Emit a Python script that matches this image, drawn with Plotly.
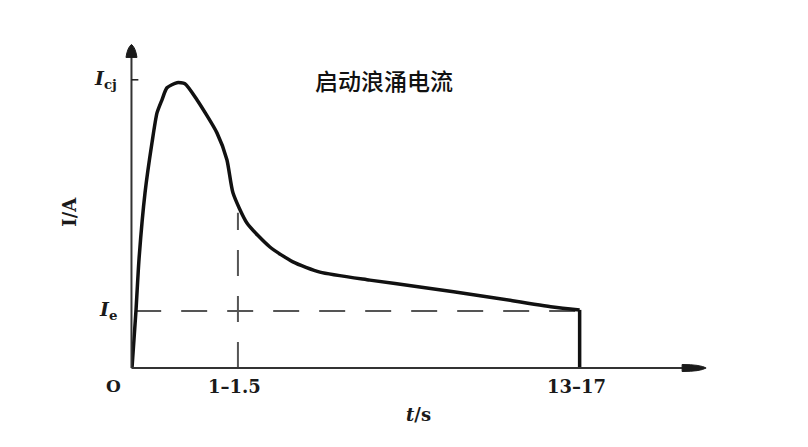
import plotly.graph_objects as go

# ---- data (abstract units: x in "tick units", y in multiples of Ie) ----
curve_t = [0.0, 0.038, 0.066, 0.123, 0.189, 0.236, 0.283, 0.330, 0.425, 0.50, 0.613,
           0.802, 0.896, 0.953, 1.085, 1.302, 1.519, 1.774, 2.245, 2.717, 3.349, 3.972, 4.226]
curve_i = [0.0, 1.02, 1.90, 3.07, 3.95, 4.47, 4.70, 4.91, 5.00, 4.98, 4.70,
           4.12, 3.65, 3.07, 2.54, 2.12, 1.86, 1.68, 1.54, 1.42, 1.25, 1.07, 1.018]
drop_t = [4.226, 4.226]
drop_i = [1.018, 0.0]

I_e = 1.0
I_cj = 5.05
t_start = 1.0      # "1–1.5"
t_end = 4.226      # "13–17"

x_tick_vals = [t_start, t_end]
x_tick_text = ["1–1.5", "13–17"]
y_tick_vals = [I_cj, I_e]
y_tick_text = ["<b><i>I</i><sub>cj</sub></b>", "<b><i>I</i><sub>e</sub></b>"]

title_text = "启动浪涌电流"
x_title = "<b><i>t</i>/s</b>"
y_title = "<b>I/A</b>"

W, H = 808, 447
off = 8  # page body margin
ml, mb = 132 - off, 79 + off
ux, uy = 106.0, 57.0
x_max, y_max = 5.4, 5.8
pw, ph = x_max * ux, y_max * uy
mt = H - mb - ph
mr = W - ml - pw

serif = "DejaVu Serif, Liberation Serif, serif"
ink = "#1a1a1a"


def px(x):
    return x / x_max


def py(y):
    return y / y_max


fig = go.Figure()

# dashed reference lines
dash = "26px,20px"
fig.add_trace(go.Scatter(x=[0.03, t_end], y=[I_e, I_e], mode="lines",
                         line=dict(color="#555555", width=2, dash=dash),
                         hoverinfo="skip", showlegend=False))
fig.add_trace(go.Scatter(x=[t_start, t_start], y=[0, 2.72], mode="lines",
                         line=dict(color="#555555", width=2, dash=dash),
                         hoverinfo="skip", showlegend=False))

# main curve
fig.add_trace(go.Scatter(x=curve_t, y=curve_i, mode="lines",
                         line=dict(color="#111111", width=3.5, shape="spline", smoothing=0.6),
                         hoverinfo="skip", showlegend=False))
fig.add_trace(go.Scatter(x=drop_t, y=drop_i, mode="lines",
                         line=dict(color="#111111", width=3.5),
                         hoverinfo="skip", showlegend=False))

# axes with arrowheads
x_tip, y_tip = 5.42, 5.67
x_axis_y = 0.0
y_axis_x = -0.005
shapes = [
    dict(type="line", xref="paper", yref="paper", x0=px(y_axis_x), x1=px(x_tip - 0.15),
         y0=py(x_axis_y), y1=py(x_axis_y), line=dict(color="#333333", width=2)),
    dict(type="line", xref="paper", yref="paper", x0=px(y_axis_x), x1=px(y_axis_x),
         y0=py(0), y1=py(y_tip - 0.15), line=dict(color="#333333", width=2)),
    dict(type="path", xref="paper", yref="paper", xsizemode="pixel", ysizemode="pixel",
         xanchor=px(x_tip), yanchor=py(x_axis_y),
         path="M 0 0 Q -6 3.5 -24 3.5 L -24 -3.5 Q -6 -3.5 0 0 Z",
         fillcolor=ink, line=dict(color=ink, width=1)),
    dict(type="path", xref="paper", yref="paper", xsizemode="pixel", ysizemode="pixel",
         xanchor=px(y_axis_x), yanchor=py(y_tip),
         path="M 0 0 Q 4 -3 5.5 -13 L -5.5 -13 Q -4 -3 0 0 Z",
         fillcolor=ink, line=dict(color=ink, width=1)),
    dict(type="line", xref="paper", yref="paper", x0=px(y_axis_x), x1=px(0.06),
         y0=py(I_cj), y1=py(I_cj), line=dict(color=ink, width=1.5)),
]


def label(x, y, text, size, xanchor="center", **kw):
    return dict(x=px(x), y=py(y), xref="paper", yref="paper", text=text, showarrow=False,
                xanchor=xanchor, yanchor="middle",
                font=dict(family=kw.pop("family", serif), size=size, color=kw.pop("color", ink),
                          **kw.pop("fontkw", {})), **kw)


annotations = []
for v, t in zip(x_tick_vals, x_tick_text):
    annotations.append(label(v - 0.03, -0.32, f"<b>{t}</b>", 18))
for v, t in zip(y_tick_vals, y_tick_text):
    annotations.append(label(-0.12, v, t, 19, xanchor="right"))
annotations.append(label(-0.17, -0.32, "<b>O</b>", 17))
annotations.append(label(2.70, -0.81, x_title, 18))
annotations.append(label(-0.585, 2.74, y_title, 18, textangle=-90))
annotations.append(label(2.38, 5.05, title_text, 23, family="Noto Sans CJK SC", color="#111111",
                         fontkw=dict(weight=500)))

fig.update_layout(
    width=W, height=H,
    margin=dict(l=ml, r=mr, t=mt, b=mb),
    paper_bgcolor="white", plot_bgcolor="white",
    xaxis=dict(range=[0, x_max], visible=False, fixedrange=True),
    yaxis=dict(range=[0, y_max], visible=False, fixedrange=True),
    annotations=annotations, shapes=shapes, showlegend=False,
)

fig.write_html("out.html")
